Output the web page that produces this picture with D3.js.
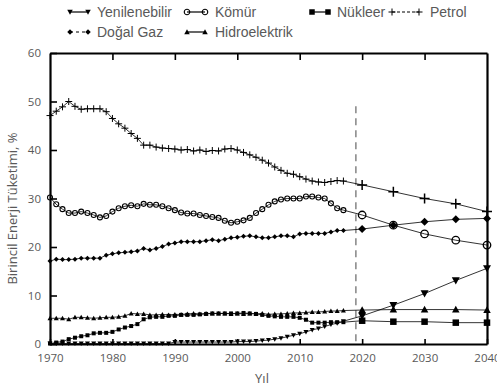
<!DOCTYPE html>
<html lang="tr">
<head>
<meta charset="UTF-8">
<title>Birincil enerji tüketimi</title>
<script src="https://cdn.jsdelivr.net/npm/d3@7/dist/d3.min.js"></script>
<style>
  body { margin: 0; background: #fff; }
  svg { display: block; }
</style>
</head>
<body>
<svg width="497" height="389"></svg>
<script>
// yıllar
var histYears = d3.range(1970, 2018);
var projYears = [2020, 2025, 2030, 2035, 2040];
var xTicks = [1970, 1980, 1990, 2000, 2010, 2020, 2030, 2040];
var yTicks = [0, 10, 20, 30, 40, 50, 60];
var splitYear = 2019;

// veriler (%), 1970-2017 ve projeksiyon
var petrolHist = [47.1, 48.0, 48.9, 50.0, 49.0, 48.4, 48.5, 48.5, 48.5, 47.9,
  46.5, 45.4, 44.5, 43.4, 42.4, 41.0, 41.0, 40.6, 40.4, 40.3,
  40.2, 40.0, 40.1, 39.8, 40.0, 39.7, 39.9, 39.8, 40.2, 40.3,
  40.0, 39.5, 39.0, 38.5, 37.9, 37.3, 36.5, 35.8, 35.2, 35.0,
  34.5, 34.0, 33.6, 33.4, 33.3, 33.5, 33.7, 33.6];
var petrolProj = [32.8, 31.4, 30.0, 28.9, 27.3];

var komurHist = [30.2, 28.8, 27.8, 27.0, 27.0, 27.3, 27.0, 26.6, 26.1, 26.4,
  27.3, 28.0, 28.4, 28.6, 28.4, 28.9, 28.7, 28.7, 28.4, 28.0,
  27.6, 27.1, 26.9, 26.9, 26.6, 26.4, 26.2, 26.0, 25.4, 25.0,
  25.2, 25.5, 26.0, 27.0, 27.8, 28.7, 29.4, 29.8, 30.0, 30.0,
  30.0, 30.4, 30.4, 30.2, 30.0, 29.0, 28.0, 27.6];
var komurProj = [26.6, 24.5, 22.7, 21.4, 20.4];

var gazHist = [17.1, 17.5, 17.4, 17.4, 17.5, 17.7, 17.7, 17.7, 17.7, 18.3,
  18.6, 18.8, 18.9, 19.0, 19.2, 19.7, 19.4, 19.7, 20.1, 20.6,
  20.8, 21.1, 21.1, 21.1, 21.1, 21.3, 21.5, 21.3, 21.6, 21.9,
  22.0, 22.2, 22.3, 22.1, 21.9, 21.9, 22.1, 22.3, 22.3, 22.1,
  22.7, 22.8, 22.8, 22.8, 22.8, 23.1, 23.4, 23.4];
var gazProj = [23.7, 24.5, 25.2, 25.7, 25.9];

var hidroHist = [5.3, 5.3, 5.3, 5.1, 5.5, 5.5, 5.4, 5.3, 5.4, 5.5,
  5.5, 5.6, 5.8, 6.3, 6.2, 6.2, 6.0, 6.0, 6.1, 6.0,
  6.1, 6.1, 6.2, 6.3, 6.2, 6.3, 6.3, 6.3, 6.3, 6.2,
  6.3, 6.2, 6.3, 6.2, 6.3, 6.1, 6.2, 6.2, 6.3, 6.4,
  6.4, 6.5, 6.6, 6.6, 6.7, 6.8, 6.8, 6.9];
var hidroProj = [7.0, 7.1, 7.1, 7.1, 7.0];

var nukleerHist = [0.1, 0.3, 0.5, 1.0, 1.3, 1.6, 1.8, 2.2, 2.3, 2.3,
  2.5, 3.0, 3.4, 3.7, 4.1, 5.1, 5.5, 5.6, 5.6, 5.8,
  5.8, 6.0, 6.0, 6.0, 6.1, 6.2, 6.3, 6.3, 6.3, 6.3,
  6.3, 6.4, 6.3, 6.2, 6.0, 5.8, 5.7, 5.6, 5.6, 5.6,
  5.4, 5.0, 4.4, 4.4, 4.4, 4.5, 4.5, 4.5];
var nukleerProj = [4.8, 4.6, 4.6, 4.4, 4.4];

var yenHist = [0.1, 0.1, 0.1, 0.1, 0.1, 0.1, 0.1, 0.1, 0.1, 0.1,
  0.1, 0.1, 0.1, 0.1, 0.1, 0.1, 0.1, 0.1, 0.1, 0.1,
  0.4, 0.4, 0.4, 0.4, 0.4, 0.4, 0.4, 0.4, 0.4, 0.4,
  0.5, 0.5, 0.5, 0.6, 0.7, 0.8, 1.0, 1.2, 1.5, 1.8,
  2.1, 2.5, 2.9, 3.2, 3.6, 4.0, 4.3, 4.7];
var yenProj = [5.8, 8.0, 10.4, 13.1, 15.6];

var series = [
  {name: "Petrol", mark: "plus", hist: petrolHist, proj: petrolProj},
  {name: "Kömür", mark: "circle", hist: komurHist, proj: komurProj},
  {name: "Doğal Gaz", mark: "diamond", hist: gazHist, proj: gazProj},
  {name: "Hidroelektrik", mark: "triUp", hist: hidroHist, proj: hidroProj},
  {name: "Nükleer", mark: "square", hist: nukleerHist, proj: nukleerProj},
  {name: "Yenilenebilir", mark: "triDown", hist: yenHist, proj: yenProj}
];

var margin = {top: 53, left: 50, right: 10, bottom: 45};
var svg = d3.select("svg");
var pw = 487 - margin.left;
var ph = 344 - margin.top;

var x = d3.scaleLinear().domain([1970, 2040]).range([0, pw]);
var y = d3.scaleLinear().domain([0, 60]).range([ph, 0]);

var g = svg.append("g").attr("transform", "translate(" + margin.left + "," + margin.top + ")");

// işaret şekilleri
function markPath(type, s) {
  var h = s / 2;
  if (type == "plus") return "M" + (-h) + ",0H" + h + "M0," + (-h) + "V" + h;
  if (type == "circle") return "M" + h + ",0A" + h + "," + h + " 0 1,1 " + (-h) + ",0A" + h + "," + h + " 0 1,1 " + h + ",0";
  if (type == "diamond") return "M0," + (-h) + "L" + h + ",0L0," + h + "L" + (-h) + ",0Z";
  if (type == "triUp") return "M0," + (-h) + "L" + h + "," + (h * 0.8) + "L" + (-h) + "," + (h * 0.8) + "Z";
  if (type == "triDown") return "M0," + h + "L" + h + "," + (-h * 0.8) + "L" + (-h) + "," + (-h * 0.8) + "Z";
  if (type == "square") return "M" + (-h) + "," + (-h) + "H" + h + "V" + h + "H" + (-h) + "Z";
}
function styleMark(sel, type, big) {
  if (type == "plus") sel.attr("fill", "none").attr("stroke", "#000").attr("stroke-width", big ? 1.5 : 1);
  else if (type == "circle") sel.attr("fill", "none").attr("stroke", "#000").attr("stroke-width", big ? 1.3 : 1.1);
  else sel.attr("fill", "#000").attr("stroke", "none");
}
var sizes = {plus: [7, 10], circle: [5, 7.5], diamond: [5, 8], triUp: [5, 7.5], triDown: [5, 8], square: [4, 6.5]};

// kesik dikey çizgi
g.append("line")
  .attr("x1", x(splitYear)).attr("x2", x(splitYear))
  .attr("y1", y(49)).attr("y2", ph)
  .attr("stroke", "#666").attr("stroke-width", 1.2)
  .attr("stroke-dasharray", "7,5");

var line = d3.line().x(function(d) { return x(d.year); }).y(function(d) { return y(d.v); });

series.forEach(function(s) {
  var hist = histYears.map(function(yr, i) { return {year: yr, v: s.hist[i]}; });
  var proj = projYears.map(function(yr, i) { return {year: yr, v: s.proj[i]}; });
  g.append("path").datum(hist.concat(proj))
    .attr("d", line).attr("fill", "none").attr("stroke", "#000").attr("stroke-width", 0.8);
  var sg = g.append("g");
  sg.selectAll("path.h").data(hist).enter().append("path").attr("class", "h")
    .attr("transform", function(d) { return "translate(" + x(d.year) + "," + y(d.v) + ")"; })
    .attr("d", markPath(s.mark, sizes[s.mark][0]))
    .call(styleMark, s.mark, false);
  sg.selectAll("path.p").data(proj).enter().append("path").attr("class", "p")
    .attr("transform", function(d) { return "translate(" + x(d.year) + "," + y(d.v) + ")"; })
    .attr("d", markPath(s.mark, sizes[s.mark][1]))
    .call(styleMark, s.mark, true);
});

// eksenler
var tickFont = "'Open Sans', sans-serif";
var xAxis = g.append("g").attr("transform", "translate(0," + ph + ")")
  .call(d3.axisBottom(x).tickValues(xTicks).tickFormat(d3.format("d")).tickSize(-5).tickSizeOuter(0).tickPadding(10));
var xTop = g.append("g")
  .call(d3.axisTop(x).tickValues(xTicks.slice(1, -1)).tickFormat("").tickSize(-7).tickSizeOuter(0));
var yAxis = g.append("g")
  .call(d3.axisLeft(y).tickValues(yTicks).tickSize(-7).tickSizeOuter(0).tickPadding(9));
var yRight = g.append("g").attr("transform", "translate(" + pw + ",0)")
  .call(d3.axisRight(y).tickValues([]).tickSizeOuter(0));

[xAxis, xTop, yAxis, yRight].forEach(function(a) {
  a.select(".domain").attr("stroke", "#000").attr("stroke-width", 2.2);
  a.selectAll(".tick line").attr("stroke", "#000").attr("stroke-width", 1.6);
  a.selectAll("text").attr("fill", "#595959").style("font-family", tickFont).style("font-size", "11.5px");
});

// eksen başlıkları
svg.append("text")
  .attr("transform", "translate(17," + (margin.top + ph / 2 + 10) + ") rotate(-90)")
  .attr("text-anchor", "middle")
  .attr("fill", "#595959").style("font-family", tickFont).style("font-size", "13px")
  .text("Birincil Enerji Tüketimi, %");
svg.append("text")
  .attr("x", 262).attr("y", 383)
  .attr("text-anchor", "middle")
  .attr("fill", "#595959").style("font-family", tickFont).style("font-size", "13px")
  .text("Yıl");

// lejant
var legendItems = [
  {name: "Yenilenebilir", mark: "triDown", m1: 70, m2: 88, tx: 97, y: 12, dash: null},
  {name: "Kömür", mark: "circle", m1: 187, m2: 205, tx: 215, y: 12, dash: null},
  {name: "Nükleer", mark: "square", m1: 312, m2: 328, tx: 337, y: 12, dash: null},
  {name: "Petrol", mark: "plus", m1: 392, m2: 419, tx: 430, y: 12, dash: "3,2"},
  {name: "Doğal Gaz", mark: "diamond", m1: 70, m2: 88, tx: 97, y: 32, dash: "3,3"},
  {name: "Hidroelektrik", mark: "triUp", m1: 187, m2: 205, tx: 215, y: 32, dash: null}
];
var lg = svg.append("g").selectAll("g").data(legendItems).enter().append("g")
  .attr("transform", function(d) { return "translate(0," + d.y + ")"; });
lg.append("line").attr("x1", function(d) { return d.m1; }).attr("x2", function(d) { return d.m2; })
  .attr("y1", 0).attr("y2", 0)
  .attr("stroke", "#000").attr("stroke-width", 1.2)
  .attr("stroke-dasharray", function(d) { return d.dash; });
lg.each(function(d) {
  var el = d3.select(this);
  [d.m1, d.m2].forEach(function(px) {
    el.append("path").attr("transform", "translate(" + px + ",0)")
      .attr("d", markPath(d.mark, d.mark == "plus" ? 7 : 5.5))
      .call(styleMark, d.mark, false);
  });
});
lg.append("text").attr("x", function(d) { return d.tx; }).attr("y", 5)
  .attr("fill", "#595959").style("font-family", "'Liberation Sans', Arial, sans-serif").style("font-size", "14px")
  .text(function(d) { return d.name; });
</script>
</body>
</html>
